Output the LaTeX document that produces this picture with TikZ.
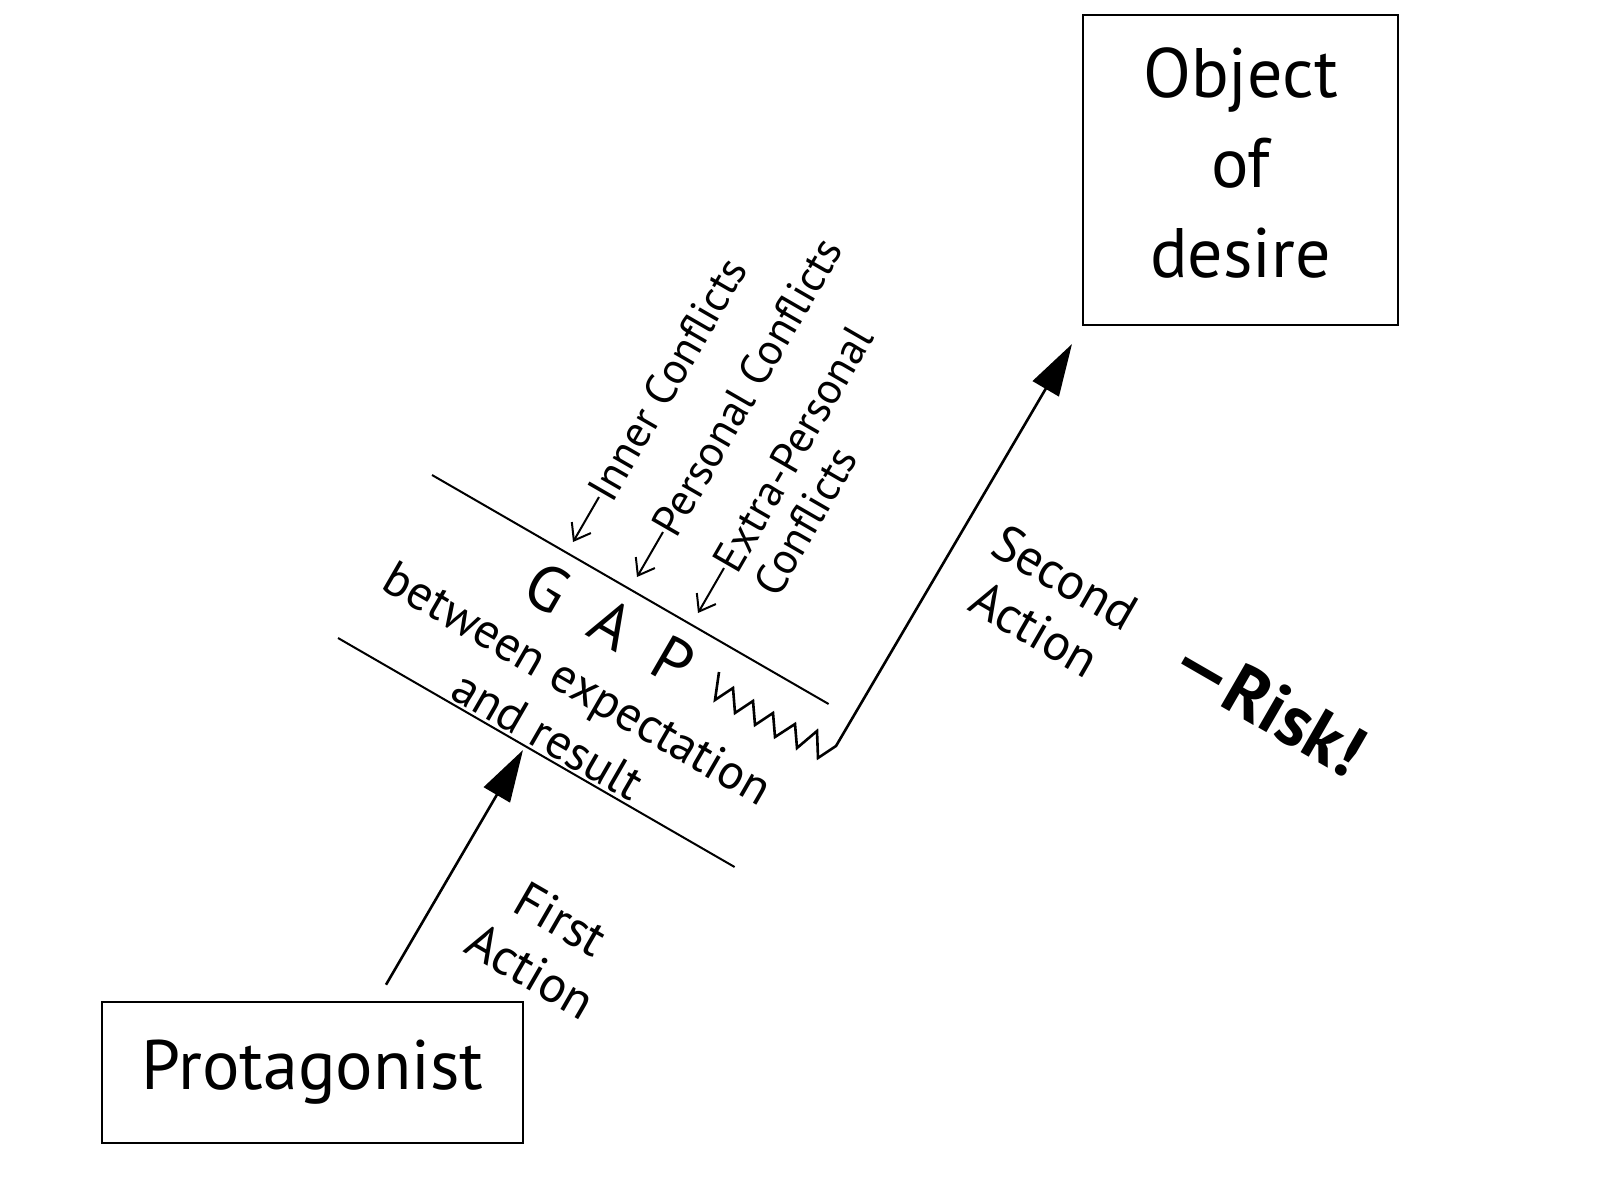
\documentclass[tikz,border=0pt]{standalone}
\usepackage{fontspec}
\setmainfont{PT Sans}
\usetikzlibrary{arrows.meta}
\begin{document}
\begin{tikzpicture}[x=1pt,y=-1pt,
  box/.style={draw, line width=2.6pt, inner sep=0pt},
  lbl/.style={font=\fontsize{51}{60}\selectfont, align=center, inner sep=0pt, rotate=-30},
  conf/.style={font=\fontsize{44}{50}\selectfont, inner sep=0pt, rotate=60, anchor=west},
  gapline/.style={line width=2pt},
  bigarrow/.style={line width=2.6pt, -{Triangle[length=52pt,width=30pt]}},
  smallarrow/.style={line width=2pt, -{Straight Barb[length=15pt,width=22pt,line width=2pt]}}
]
\fill[white] (0,0) rectangle (1606,1194);
\useasboundingbox (0,0) rectangle (1606,1194);

% boxes
\node[box, minimum width=421pt, minimum height=141pt, font=\fontsize{70}{70}\selectfont] (prot) at (312.5,1072.5) {Protagonist};
\node[box, minimum width=315pt, minimum height=310pt, align=center, text depth=15pt, font=\fontsize{70}{90}\selectfont] (obj) at (1240.5,170) {Object\\of\\desire};

% gap lines
\draw[gapline] (432,475) -- (828.6,704);
\draw[gapline] (338,638) -- (734.6,867);

% GAP text
\node[font=\fontsize{64}{64}\selectfont, rotate=-30, inner sep=0pt] (gap) at (610,624) {G\hspace{0.55em}A\hspace{0.55em}P};
\node[lbl, font=\fontsize{49}{60}\selectfont] (btw) at (563,709) {between expectation\\and result};

% first action
\coordinate (a1e) at (523,750);
\draw[bigarrow] ([shift={(73.5,-16)}]prot.north) -- (a1e);
\node[lbl] (first) at (546,945) {First\\Action};

% zigzag and second action
\coordinate (zz) at (719,672);
\coordinate (a2e) at (1072,344);
\draw[bigarrow, line join=miter] (zz) -- (715,700) -- (733,688) -- (735,713) -- (753,701) -- (755,725) -- (773,713) -- (775,737) -- (795,724) -- (797,748) -- (817,731) -- (818,758) -- (836,746) -- (a2e);
\node[lbl] (second) at (1050,603) {Second\\Action};
\node[font=\bfseries\fontsize{72}{72}\selectfont, rotate=-30, inner sep=0pt] (risk) at (1269,705) {\textemdash Risk!};

% conflicts
\coordinate (ti) at (573,542);
\coordinate (tp) at (637,577);
\coordinate (te) at (698,613);
\node[conf] (inner) at (599,497) {Inner Conflicts};
\draw[smallarrow] (inner.west) -- (ti);
\node[conf] (pers) at (663,532) {Personal Conflicts};
\draw[smallarrow] (pers.west) -- (tp);
\node[conf] (extra) at (724,568) {Extra-Personal};
\draw[smallarrow] (extra.west) -- (te);
\node[conf] (extra2) at ([shift={(30:47)}]extra.west) {Conflicts};
\end{tikzpicture}
\end{document}
